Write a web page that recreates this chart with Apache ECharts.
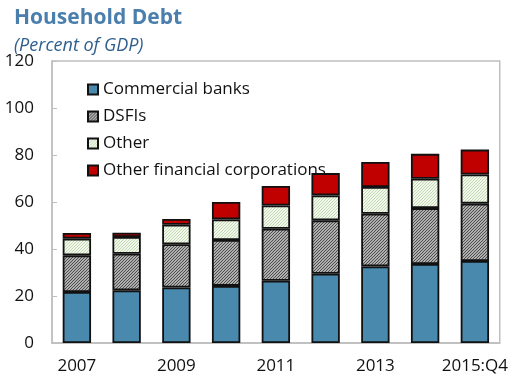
<!DOCTYPE html>
<html>
<head>
<meta charset="utf-8">
<script src="https://cdn.jsdelivr.net/npm/echarts@6/dist/echarts.min.js"></script>
<style>
  html, body { margin: 0; padding: 0; background: #fff; }
  #chart { width: 511px; height: 375px; }
</style>
</head>
<body>
<div id="chart"></div>
<script>
const categories = ["2007", "2008", "2009", "2010", "2011", "2012", "2013", "2014", "2015:Q4"];
const commercialBanks = [21.7, 22.4, 23.6, 24.3, 26.5, 29.5, 32.6, 33.6, 34.9];
const dsfis = [15.6, 15.6, 18.4, 19.5, 22.1, 22.7, 22.4, 23.8, 24.4];
const other = [7.1, 7.1, 8.3, 8.8, 9.9, 10.6, 11.4, 12.5, 12.4];
const otherFinancial = [2.4, 1.8, 2.5, 7.4, 8.3, 9.5, 10.6, 10.6, 10.6];

// hatch fills
function hatch(bg, line, gap, width) {
  const c = document.createElement("canvas");
  c.width = gap;
  c.height = gap;
  const ctx = c.getContext("2d");
  ctx.fillStyle = bg;
  ctx.fillRect(0, 0, gap, gap);
  ctx.strokeStyle = line;
  ctx.lineWidth = width;
  ctx.beginPath();
  ctx.moveTo(-1, gap + 1);
  ctx.lineTo(gap + 1, -1);
  ctx.moveTo(-1, 1);
  ctx.lineTo(1, -1);
  ctx.moveTo(gap - 1, gap + 1);
  ctx.lineTo(gap + 1, gap - 1);
  ctx.stroke();
  return { image: c, repeat: "repeat" };
}

const dsfiFill = hatch("#ffffff", "#4d4d4d", 3, 1.3);
const otherFill = hatch("#f2f7ec", "#b9cfa6", 3, 0.8);

const chart = echarts.init(document.getElementById("chart"));

const makeSeries = (name, data, color) => ({
  name: name,
  type: "bar",
  stack: "total",
  data: data,
  barWidth: "57%",
  itemStyle: { color: color, borderColor: "#111", borderWidth: 1.8 },
});

chart.setOption({
  animation: false,
  title: [
    {
      text: "Household Debt",
      left: 9,
      top: 3,
      textStyle: { fontFamily: "Open Sans", fontSize: 21, fontWeight: "bold", color: "#4a7fad" },
    },
    {
      text: "(Percent of GDP)",
      left: 9,
      top: 32,
      textStyle: { fontFamily: "Open Sans", fontSize: 18, fontStyle: "italic", fontWeight: "normal", color: "#2f5f8f" },
    },
  ],
  legend: {
    orient: "vertical",
    left: 82,
    top: 76,
    itemGap: 10,
    itemWidth: 10,
    itemHeight: 10,
    icon: "rect",
    textStyle: { fontFamily: "Open Sans", fontSize: 17, color: "#111" },
    data: ["Commercial banks", "DSFIs", "Other", "Other financial corporations"],
  },
  grid: {
    left: 52,
    right: 11,
    top: 61,
    bottom: 31,
    show: true,
    borderColor: "#bfbfbf",
    borderWidth: 1.5,
  },
  xAxis: {
    type: "category",
    data: categories,
    axisLine: { lineStyle: { color: "#bfbfbf", width: 1.5 } },
    axisTick: { inside: true, length: 4, lineStyle: { color: "#bfbfbf" } },
    axisLabel: { interval: 1, color: "#111", fontFamily: "Open Sans", fontSize: 17, margin: 15 },
  },
  yAxis: {
    type: "value",
    min: 0,
    max: 120,
    interval: 20,
    axisLine: { show: true, lineStyle: { color: "#bfbfbf", width: 1.5 } },
    axisTick: { show: true, inside: true, length: 5, lineStyle: { color: "#bfbfbf" } },
    splitLine: { show: false },
    axisLabel: { color: "#111", fontFamily: "Open Sans", fontSize: 17, margin: 18 },
  },
  series: [
    makeSeries("Commercial banks", commercialBanks, "#4a89ae"),
    makeSeries("DSFIs", dsfis, dsfiFill),
    makeSeries("Other", other, otherFill),
    makeSeries("Other financial corporations", otherFinancial, "#c00000"),
  ],
});
</script>
</body>
</html>
